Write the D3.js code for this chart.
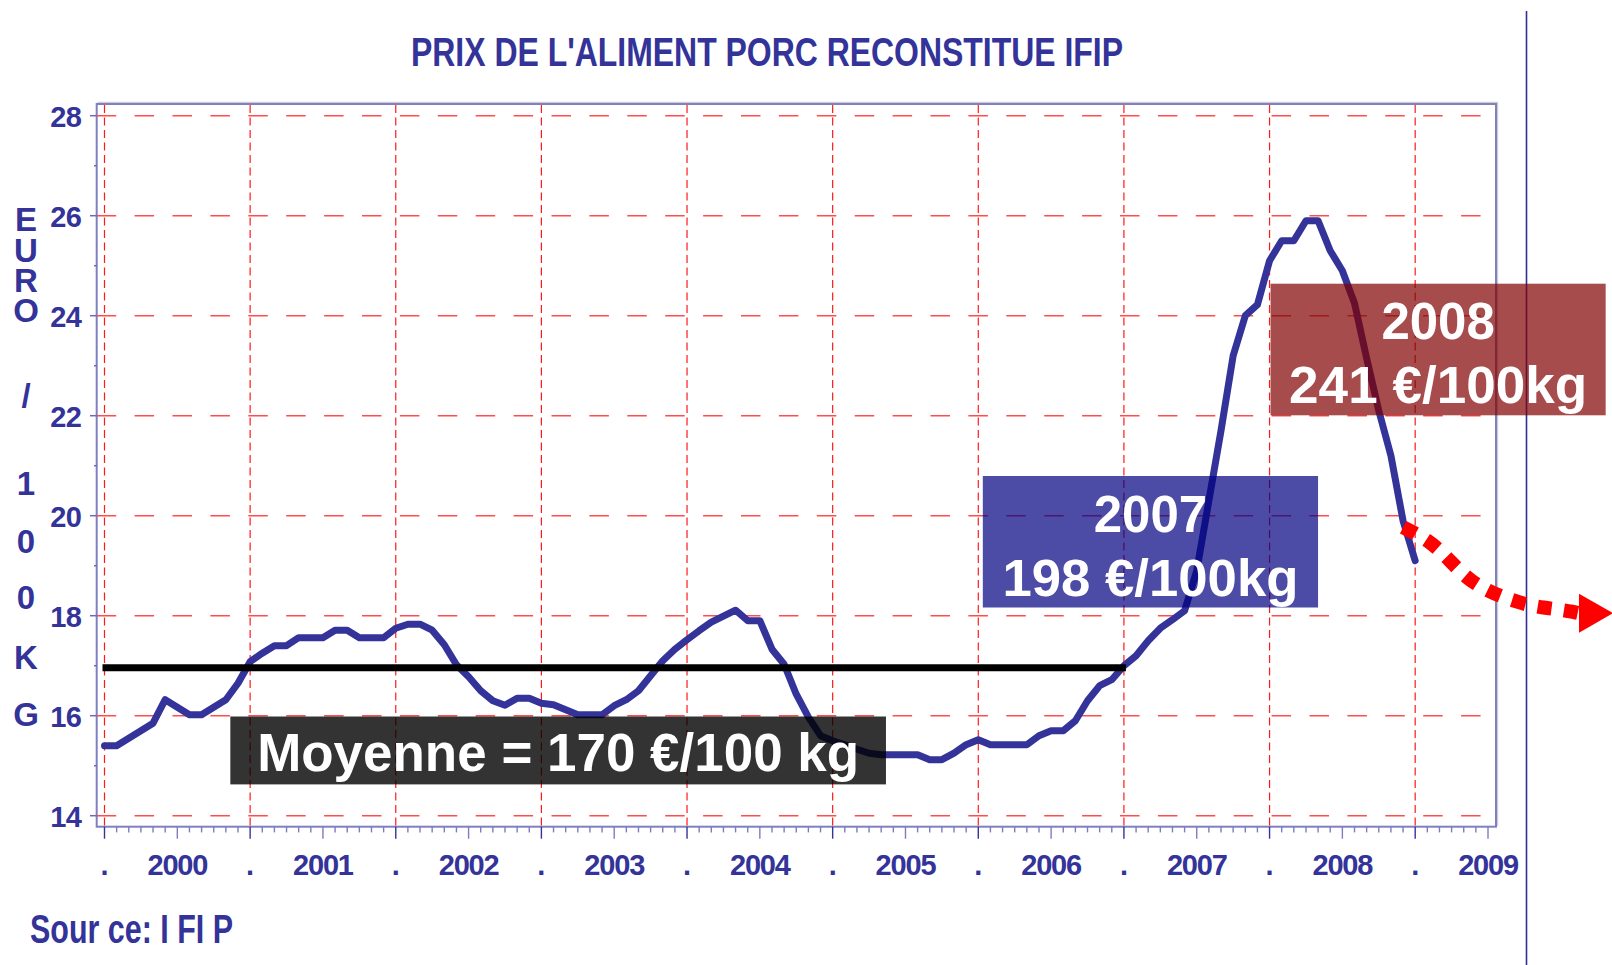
<!DOCTYPE html>
<html><head><meta charset="utf-8">
<script src="https://cdn.jsdelivr.net/npm/d3@7"></script>
<style>
html,body{margin:0;padding:0;background:#fff;}
svg{display:block;}
text{font-family:"Liberation Sans",Arial,Helvetica,sans-serif;font-weight:bold;}
</style>
</head><body>
<svg id="chart" width="1612" height="965"></svg>
<script>
// ---------------- DATA ----------------
const chartTitle = "PRIX DE L'ALIMENT PORC RECONSTITUE IFIP";
const sourceText = "Sour ce: I FI P";
const yAxisLetters = ["E","U","R","O","/","1","0","0","K","G"];
const startYear = 2000;
// monthly feed price (EUR / 100 kg, in tens), Jan 2000 .. Jan 2009
const prices2000 = [15.40,15.40,15.55,15.70,15.85,16.32,16.17,16.02,16.02,16.17,16.32,16.65];
const prices2001 = [17.08,17.25,17.40,17.40,17.56,17.56,17.56,17.71,17.71,17.56,17.56,17.56];
const prices2002 = [17.75,17.83,17.83,17.71,17.42,17.02,16.78,16.50,16.30,16.21,16.35,16.35];
const prices2003 = [16.25,16.22,16.12,16.02,16.02,16.02,16.20,16.32,16.50,16.80,17.10,17.33];
const prices2004 = [17.52,17.70,17.87,17.99,18.11,17.90,17.90,17.33,17.03,16.43,15.97,15.60];
const prices2005 = [15.50,15.42,15.33,15.25,15.22,15.22,15.22,15.22,15.12,15.12,15.25,15.42];
const prices2006 = [15.52,15.42,15.42,15.42,15.42,15.60,15.70,15.70,15.90,16.30,16.60,16.72];
const prices2007 = [17.00,17.20,17.50,17.75,17.92,18.10,18.90,20.30,21.70,23.20,24.00,24.22];
const prices2008 = [25.10,25.50,25.50,25.90,25.90,25.30,24.90,24.25,23.15,22.10,21.20,19.90];
const prices2009 = [19.10];
const averageValue = 16.96;
const averageSpan = [2000, 2007];
const yTicks = [14,16,18,20,22,24,26,28];
const yearLabels = ["2000","2001","2002","2003","2004","2005","2006","2007","2008","2009"];
const yearBoundaries = [2000,2001,2002,2003,2004,2005,2006,2007,2008,2009];
const averageText = ["Moyenne = 170 €/100 kg"];
const text2007 = ["2007","198 €/100kg"];
const text2008 = ["2008","241 €/100kg"];
// forecast arrow path (year, value)
const forecastPath = [[2008.917,19.77],[2009.103,19.46],[2009.387,18.70],[2009.723,18.26],[2010.075,18.08],[2010.125,18.05]];

const prices = [].concat(prices2000,prices2001,prices2002,prices2003,prices2004,
                         prices2005,prices2006,prices2007,prices2008,prices2009);

// ---------------- LAYOUT ----------------
const navy = "#333399";
const plot = {left:96.7, right:1496, top:104, bottom:826.7};
const x = d3.scaleLinear().domain([2000, 2009.5]).range([104.5, 1488]);
const y = d3.scaleLinear().domain([14, 28]).range([815.7, 115.7]);
const svg = d3.select("#chart");

// title
svg.append("text").attr("x",767).attr("y",66).attr("text-anchor","middle")
  .attr("font-size",40).attr("fill",navy)
  .attr("textLength",712).attr("lengthAdjust","spacingAndGlyphs").text(chartTitle);

// source
svg.append("text").attr("x",30).attr("y",943).attr("font-size",40).attr("fill",navy)
  .attr("textLength",203).attr("lengthAdjust","spacingAndGlyphs").text(sourceText);

// right decorative vertical line
svg.append("line").attr("x1",1526.5).attr("x2",1526.5).attr("y1",11).attr("y2",965)
  .attr("stroke","#2e2e96").attr("stroke-width",1.6);

// frame shadow + frame
svg.append("rect").attr("x",plot.left+1.5).attr("y",plot.top-1.5)
  .attr("width",plot.right-plot.left).attr("height",plot.bottom-plot.top)
  .attr("fill","none").attr("stroke","#cfcfcf").attr("stroke-width",1.5);
svg.append("rect").attr("x",plot.left).attr("y",plot.top)
  .attr("width",plot.right-plot.left).attr("height",plot.bottom-plot.top)
  .attr("fill","#fff").attr("stroke","#7f7fc2").attr("stroke-width",2);

// horizontal grid
svg.append("g").selectAll("line").data(yTicks).join("line")
  .attr("x1",plot.left).attr("x2",x(2009.5))
  .attr("y1",d=>y(d)).attr("y2",d=>y(d))
  .attr("stroke","#ff4d4d").attr("stroke-width",1.6).attr("stroke-dasharray","19.5 18.4");

// vertical grid
svg.append("g").selectAll("line").data(yearBoundaries).join("line")
  .attr("x1",d=>x(d)).attr("x2",d=>x(d))
  .attr("y1",plot.top+1).attr("y2",plot.bottom-1)
  .attr("stroke","#ff1a1a").attr("stroke-width",1.2).attr("stroke-dasharray","8 4.5");

// y ticks
const yMinor = d3.range(15, 28, 2);
svg.append("g").selectAll("line").data(yTicks).join("line")
  .attr("x1",90).attr("x2",plot.left).attr("y1",d=>y(d)).attr("y2",d=>y(d))
  .attr("stroke","#6a6ab8").attr("stroke-width",1.5);
svg.append("g").selectAll("line").data(yMinor).join("line")
  .attr("x1",94).attr("x2",plot.left).attr("y1",d=>y(d)).attr("y2",d=>y(d))
  .attr("stroke","#6a6ab8").attr("stroke-width",1.5);
svg.append("g").selectAll("text").data(yTicks).join("text")
  .attr("x",81).attr("y",d=>y(d)+11).attr("text-anchor","end")
  .attr("font-size",29).attr("letter-spacing","-0.8").attr("fill",navy).text(d=>d);

// x ticks (monthly)
const months = d3.range(0, 115);
svg.append("g").selectAll("line").data(months).join("line")
  .attr("x1",m=>x(2000+m/12)).attr("x2",m=>x(2000+m/12))
  .attr("y1",plot.bottom).attr("y2",m=>plot.bottom + (m%6===0 ? 12 : 5.7))
  .attr("stroke",m=>m%12===0 ? navy : "#7c7cc0").attr("stroke-width",1.4);
// x labels
svg.append("g").selectAll("text").data(yearLabels).join("text")
  .attr("x",(d,i)=>x(yearBoundaries[i]+0.5)).attr("y",875).attr("text-anchor","middle")
  .attr("font-size",29).attr("letter-spacing","-1.2").attr("fill",navy).text(d=>d);
svg.append("g").selectAll("text").data(yearBoundaries).join("text")
  .attr("x",d=>x(d)).attr("y",875).attr("text-anchor","middle")
  .attr("font-size",29).attr("fill",navy).text(".");

// y axis title letters
const letterBaselines = [231,261.5,291.5,321.5,407,495,553,609,669,726];
const yt = svg.append("text").attr("font-size",33).attr("fill",navy).attr("text-anchor","middle");
yt.selectAll("tspan").data(yAxisLetters).join("tspan")
  .attr("x",26).attr("y",(d,i)=>letterBaselines[i]).text(d=>d);

// price line
const line = d3.line().x((d,i)=>x(startYear + i/12)).y(d=>y(d));
svg.append("path").datum(prices).attr("d",line)
  .attr("fill","none").attr("stroke",navy).attr("stroke-width",7)
  .attr("stroke-linejoin","round").attr("stroke-linecap","round");

// average line
svg.append("line").attr("x1",x(averageSpan[0])-2).attr("x2",x(averageSpan[1])+2)
  .attr("y1",y(averageValue)).attr("y2",y(averageValue))
  .attr("stroke","#000").attr("stroke-width",7);

// annotation boxes
function box(x0,x1,vTop,vBot,fill,op,lines,sizes,offsets,lengths){
  const g = svg.append("g");
  const px0=x(x0), px1=x(x1), py0=y(vTop), py1=y(vBot);
  g.append("rect").attr("x",px0).attr("y",py0).attr("width",px1-px0).attr("height",py1-py0)
    .attr("fill",fill).attr("fill-opacity",op);
  lines.forEach((t,i)=>{
    const tx = g.append("text").attr("x",(px0+px1)/2).attr("y",py0+offsets[i])
      .attr("text-anchor","middle").attr("font-size",sizes[i]).attr("fill","#fff").text(t);
    if(lengths[i]) tx.attr("textLength",lengths[i]).attr("lengthAdjust","spacingAndGlyphs");
  });
}
box(2000.864,2005.366,15.984,14.626,"#000",0.8,averageText,[54],[54.5],[602]);
box(2006.031,2008.333,20.794,18.164,"#000080",0.7,text2007,[51,51],[55.5,119.5],[0,296]);
box(2008.007,2010.308,24.64,22.008,"#800000",0.7,text2008,[51,51],[55.3,119.3],[0,298]);

// forecast arrow
const fLine = d3.line().x(d=>x(d[0])).y(d=>y(d[1])).curve(d3.curveMonotoneX);
svg.append("path").datum(forecastPath).attr("d",fLine)
  .attr("fill","none").attr("stroke","#ff0000").attr("stroke-width",14)
  .attr("stroke-dasharray","14 12.5");
const endP = forecastPath[forecastPath.length-1];
const bx = x(endP[0]), by = y(endP[1]);
svg.append("path").attr("d",`M${bx},${by-19.5} L${bx+34},${by} L${bx},${by+19.5} Z`).attr("fill","#ff0000");
</script>
</body></html>
